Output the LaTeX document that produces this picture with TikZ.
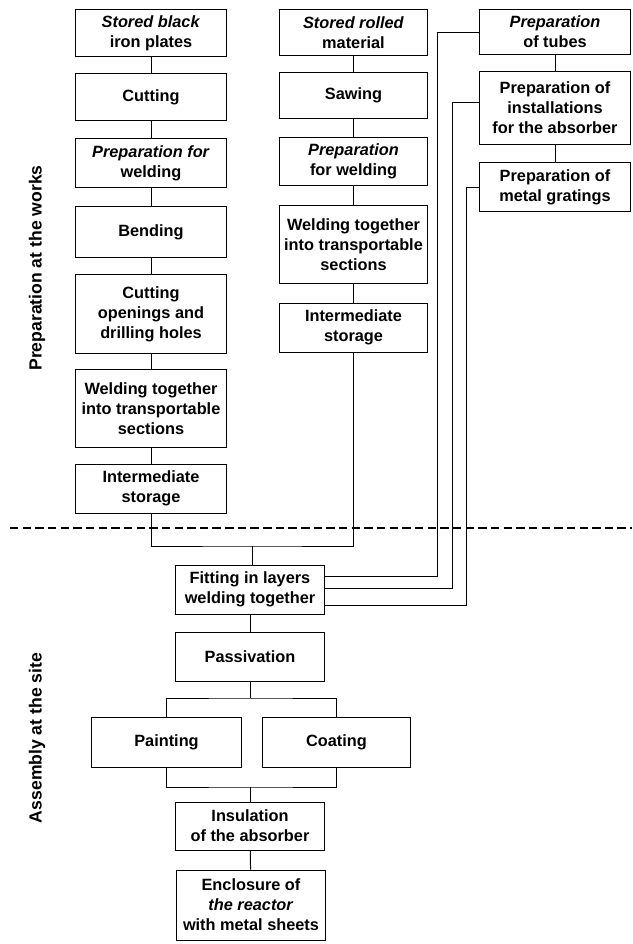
\documentclass[tikz,border=0pt]{standalone}
\usepackage{fontspec}
\setmainfont{Liberation Sans}
\usepackage{tikz}
\usetikzlibrary{positioning,calc}

\begin{document}
\begin{tikzpicture}[x=0.025cm,y=-0.025cm,
        stage/.style={draw, rectangle, line width=0.7pt, align=center, inner sep=1pt,
            font=\bfseries\fontsize{11.6}{14.3}\selectfont},
        link/.style={line width=0.7pt},
        divider/.style={line width=1.3pt, dash pattern=on 6pt off 3pt},
        side/.style={rotate=90, font=\bfseries\fontsize{12.5}{15}\selectfont}]
        \useasboundingbox (0,0) rectangle (632,944);

        % Preparation at the works: iron plates
        \node[stage, minimum width=3.75cm, minimum height=1.15cm] (plates_store) at (151,33) {\textit{Stored black}\\iron plates};
        \node[stage, minimum width=3.75cm, minimum height=1.15cm] (plates_cut) at (151,97) {Cutting};
        \node[stage, minimum width=3.75cm, minimum height=1.2cm] (plates_prep) at (151,163) {\textit{Preparation for}\\welding};
        \node[stage, minimum width=3.75cm, minimum height=1.25cm] (plates_bend) at (151,232) {Bending};
        \node[stage, minimum width=3.75cm, minimum height=1.95cm] (plates_drill) at (151,314) {Cutting\\openings and\\drilling holes};
        \node[stage, minimum width=3.75cm, minimum height=1.925cm] (plates_weld) at (151,408.5) {Welding together\\into transportable\\sections};
        \node[stage, minimum width=3.75cm, minimum height=1.225cm] (plates_inter) at (151,488.5) {Intermediate\\storage};

        \draw[link] (plates_store) -- (plates_cut);
        \draw[link] (plates_cut) -- (plates_prep);
        \draw[link] (plates_prep) -- (plates_bend);
        \draw[link] (plates_bend) -- (plates_drill);
        \draw[link] (plates_drill) -- (plates_weld);
        \draw[link] (plates_weld) -- (plates_inter);

        % Preparation at the works: rolled material
        \node[stage, minimum width=3.675cm, minimum height=1.125cm] (rolled_store) at (353.5,32.5) {\textit{Stored rolled}\\material};
        \node[stage, minimum width=3.675cm, minimum height=1.125cm] (rolled_saw) at (353.5,95.5) {Sawing};
        \node[stage, minimum width=3.675cm, minimum height=1.175cm] (rolled_prep) at (353.5,161.5) {\textit{Preparation}\\for welding};
        \node[stage, minimum width=3.675cm, minimum height=1.925cm] (rolled_weld) at (353.5,244.5) {Welding together\\into transportable\\sections};
        \node[stage, minimum width=3.675cm, minimum height=1.225cm] (rolled_inter) at (353.5,327.5) {Intermediate\\storage};

        \draw[link] (rolled_store) -- (rolled_saw);
        \draw[link] (rolled_saw) -- (rolled_prep);
        \draw[link] (rolled_prep) -- (rolled_weld);
        \draw[link] (rolled_weld) -- (rolled_inter);

        % Preparation at the works: tubes, installations, gratings
        \node[stage, minimum width=3.775cm, minimum height=1.1cm] (tubes) at (555,32) {\textit{Preparation}\\of tubes};
        \node[stage, minimum width=3.775cm, minimum height=1.8cm] (install) at (555,108) {Preparation of\\installations\\for the absorber};
        \node[stage, minimum width=3.775cm, minimum height=1.2cm] (gratings) at (555,187) {Preparation of\\metal gratings};

        \draw[link] (tubes) -- (install);
        \draw[link] (install) -- (gratings);

        % Border between works and site
        \draw[divider] (10,528) -- (632,528);

        % Assembly at the site
        \node[stage, minimum width=3.7cm, minimum height=1.225cm] (fit) at (250,589.5) {Fitting in layers\\welding together};
        \node[stage, minimum width=3.7cm, minimum height=1.225cm] (pass) at (250,656.5) {Passivation};
        \node[stage, minimum width=3.725cm, minimum height=1.25cm] (paint) at (166.5,742) {Painting};
        \node[stage, minimum width=3.675cm, minimum height=1.25cm] (coat) at (336.5,742) {Coating};
        \node[stage, minimum width=3.7cm, minimum height=1.2cm] (insul) at (250,826) {Insulation\\of the absorber};
        \node[stage, minimum width=3.725cm, minimum height=1.75cm] (encl) at (251,905) {Enclosure of\\\textit{the reactor}\\with metal sheets};

        \coordinate (join) at (252,546);
        \draw[link] (plates_inter.south) |- (join) -| (rolled_inter.south);
        \draw[link] (join) -- (join |- fit.north);

        \draw[link] (tubes.west) -- ++(-42,0) |- ($(fit.east)+(0,-13.5)$);
        \draw[link] ($(install.west)+(0,-6)$) -- ++(-27,0) |- ($(fit.east)+(0,-1.5)$);
        \draw[link] (gratings.west) -- ++(-13,0) |- ($(fit.east)+(0,15.5)$);

        \draw[link] (fit) -- (pass);
        \coordinate (split) at (250,698);
        \draw[link] (pass) -- (split);
        \draw[link] (paint.north) |- (split) -| (coat.north);
        \coordinate (merge) at (250,787);
        \draw[link] (paint.south) |- (merge) -| (coat.south);
        \draw[link] (merge) -- (insul);
        \draw[link] (insul) -- (encl);

        \node[side] (works_label) at (37,268) {Preparation at the works};
        \node[side] (site_label) at (37,738) {Assembly at the site};
    \end{tikzpicture}
\end{document}
